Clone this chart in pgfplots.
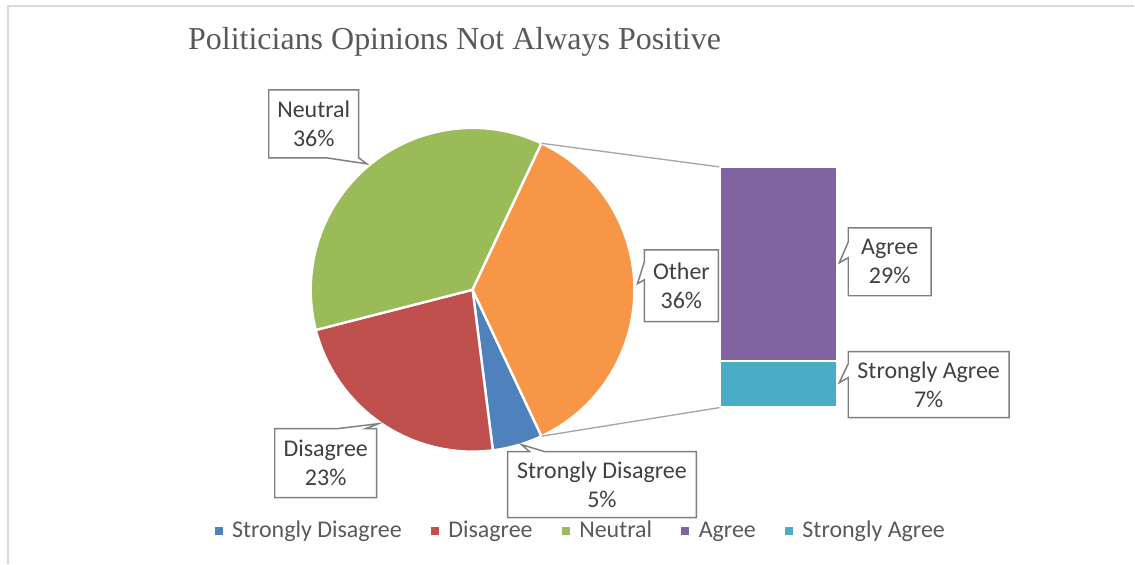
\documentclass[border=0pt]{standalone}
\usepackage{pgfplots}
\pgfplotsset{compat=1.18}
\usepackage{fontspec}
\setmainfont{Carlito}
\newfontfamily\titlefont{Liberation Serif}
\definecolor{cSD}{HTML}{4F81BD}
\definecolor{cD}{HTML}{C0504D}
\definecolor{cN}{HTML}{9BBB59}
\definecolor{cA}{HTML}{8064A2}
\definecolor{cSA}{HTML}{4BACC6}
\definecolor{cO}{HTML}{F79646}
\definecolor{lblgray}{HTML}{404040}
\definecolor{leggray}{HTML}{595959}
\definecolor{boxgray}{HTML}{7F7F7F}
\definecolor{linegray}{HTML}{A6A6A6}
\definecolor{bordergray}{HTML}{D9D9D9}
% data (percent)
\def\pSD{5}
\def\pD{23}
\def\pN{36}
\def\pA{29}
\def\pSA{7}
\pgfmathsetmacro\pO{\pA+\pSA}
\pgfmathsetmacro\aO{\pO*3.6/2}
\pgfmathsetmacro\aN{\aO+\pN*3.6}
\pgfmathsetmacro\aD{\aN+\pD*3.6}
\pgfmathsetmacro\aSD{\aD+\pSD*3.6}
\pgfmathsetmacro\pxper{241/\pO}
\pgfmathsetmacro\ySAtop{408-\pSA*\pxper}
\pgfmathsetmacro\yAtop{\ySAtop-\pA*\pxper}
\pgfmathsetmacro\cx{473}
\pgfmathsetmacro\cy{290}
\pgfmathsetmacro\R{162}
\pgfmathsetmacro\ex{\cx+\R*cos(\aO)}
\pgfmathsetmacro\eyt{\cy-\R*sin(\aO)}
\pgfmathsetmacro\eyb{\cy+\R*sin(\aO)}
\begin{document}
\begin{tikzpicture}
\begin{axis}[
  width=851.25pt, height=423pt, scale only axis,
  xmin=0, xmax=1135, ymin=0, ymax=564, y dir=reverse,
  hide axis, clip=false,
  legend columns=5,
  legend style={at={(axis cs:581,531)}, anchor=center, draw=none, fill=none,
    font=\fontsize{18}{21}\selectfont, text=leggray,
    nodes={inner sep=1pt},
    /tikz/every odd column/.append style={column sep=6pt},
    /tikz/every even column/.append style={column sep=21pt}},
  legend image code/.code={\path[#1,draw=none] (0pt,-3pt) rectangle (6pt,3pt);},
]
\path (axis cs:0,0) rectangle (axis cs:1135,564);
\draw[bordergray, line width=1.5pt] (axis cs:8,564) -- (axis cs:8,6) -- (axis cs:1135,6);
% pie slices
\addplot[fill=cSD, draw=white, line width=1.8pt, domain=\aD:\aSD, samples=20, variable=\t]
  ({\cx+\R*cos(\t)},{\cy-\R*sin(\t)}) -- (axis cs:\cx,\cy) -- cycle;
\addlegendentry{Strongly Disagree}
\addplot[fill=cD, draw=white, line width=1.8pt, domain=\aN:\aD, samples=60, variable=\t]
  ({\cx+\R*cos(\t)},{\cy-\R*sin(\t)}) -- (axis cs:\cx,\cy) -- cycle;
\addlegendentry{Disagree}
\addplot[fill=cN, draw=white, line width=1.8pt, domain=\aO:\aN, samples=80, variable=\t]
  ({\cx+\R*cos(\t)},{\cy-\R*sin(\t)}) -- (axis cs:\cx,\cy) -- cycle;
\addlegendentry{Neutral}
% bar of pie
\addplot[fill=cA, draw=white, line width=1.8pt] coordinates
  {(720,\ySAtop) (838,\ySAtop) (838,\yAtop) (720,\yAtop)} -- cycle;
\addlegendentry{Agree}
\addplot[fill=cSA, draw=white, line width=1.8pt] coordinates
  {(720,408) (838,408) (838,\ySAtop) (720,\ySAtop)} -- cycle;
\addlegendentry{Strongly Agree}
\addplot[forget plot, fill=cO, draw=white, line width=1.8pt, domain=-\aO:\aO, samples=80, variable=\t]
  ({\cx+\R*cos(\t)},{\cy-\R*sin(\t)}) -- (axis cs:\cx,\cy) -- cycle;
% connector lines
\draw[linegray, line width=1pt] (axis cs:\ex,\eyt) -- (axis cs:720,\yAtop);
\draw[linegray, line width=1pt] (axis cs:\ex,\eyb) -- (axis cs:720,408);
% title
\node[anchor=base, font=\titlefont\fontsize{24}{28}\selectfont, text=leggray, inner sep=0]
  at (axis cs:455,50) {Politicians Opinions Not Always Positive};
% callouts
\tikzset{cbox/.style={draw=boxgray, fill=white, line width=1.1pt, line join=miter}}
\tikzset{ctext/.style={align=center, inner sep=0, text=lblgray, font=\fontsize{18}{21.75}\selectfont}}
% Neutral
\draw[cbox] (axis cs:269,90) -- (axis cs:359,90) -- (axis cs:359,158) -- (axis cs:367,164) -- (axis cs:327,158) -- (axis cs:269,158) -- cycle;
\node[ctext] at (axis cs:314,124) {Neutral\\36\%};
% Other
\draw[cbox] (axis cs:645,250) -- (axis cs:719,250) -- (axis cs:719,322) -- (axis cs:645,322) -- (axis cs:645,280) -- (axis cs:638,284) -- (axis cs:645,262) -- cycle;
\node[ctext] at (axis cs:682,286) {Other\\36\%};
% Agree
\draw[cbox] (axis cs:849,228) -- (axis cs:932,228) -- (axis cs:932,296) -- (axis cs:849,296) -- (axis cs:849,258) -- (axis cs:840,263) -- (axis cs:849,242) -- cycle;
\node[ctext] at (axis cs:890.5,262) {Agree\\29\%};
% Strongly Agree
\draw[cbox] (axis cs:849,352) -- (axis cs:1010,352) -- (axis cs:1010,418) -- (axis cs:849,418) -- (axis cs:849,378) -- (axis cs:840,383) -- (axis cs:849,364) -- cycle;
\node[ctext] at (axis cs:929.5,385) {Strongly Agree\\7\%};
% Disagree
\draw[cbox] (axis cs:275,429) -- (axis cs:338,429) -- (axis cs:379,424) -- (axis cs:366,429) -- (axis cs:377,429) -- (axis cs:377,498) -- (axis cs:275,498) -- cycle;
\node[ctext] at (axis cs:326,463.5) {Disagree\\23\%};
% Strongly Disagree
\draw[cbox] (axis cs:508,452) -- (axis cs:530,452) -- (axis cs:522,445) -- (axis cs:545,452) -- (axis cs:697,452) -- (axis cs:697,518) -- (axis cs:508,518) -- cycle;
\node[ctext] at (axis cs:602.5,485) {Strongly Disagree\\5\%};
\end{axis}
\end{tikzpicture}
\end{document}
